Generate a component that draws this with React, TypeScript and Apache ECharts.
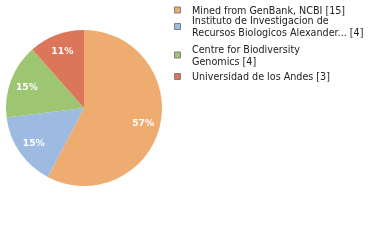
import React, { useEffect, useRef } from "react";
import * as echarts from "echarts";

const categories = [
  "Mined from GenBank, NCBI [15]",
  "Instituto de Investigacion de\nRecursos Biologicos Alexander... [4]",
  "Centre for Biodiversity\nGenomics [4]",
  "Universidad de los Andes [3]",
];
const values = [15, 4, 4, 3];
const colors = ["#EFAC70", "#9DBBE0", "#9EC571", "#DC765A"];
// vertical centre of each legend entry (layout)
const legendCenters = [10, 26.5, 55, 76.5];

export default function App() {
  const ref = useRef<HTMLDivElement>(null);
  useEffect(() => {
    const chart = echarts.init(ref.current!, null, { renderer: "svg" });
    const data = categories.map((name, i) => ({
      name,
      value: values[i],
      itemStyle: { color: colors[i] },
    }));
    const total = values.reduce((a, b) => a + b, 0);
    const legendGraphics: any[] = [];
    categories.forEach((name, i) => {
      const c = legendCenters[i];
      legendGraphics.push({
        type: "rect",
        silent: true,
        shape: { x: 174.5, y: c - 3, width: 6, height: 6 },
        style: { fill: colors[i], stroke: "#808080", lineWidth: 1 },
      });
      legendGraphics.push({
        type: "text",
        silent: true,
        x: 192,
        y: c,
        style: {
          text: name,
          fill: "#222",
          fontFamily: "DejaVu Sans",
          fontSize: 9.6,
          lineHeight: 12,
          align: "left",
          verticalAlign: "middle",
        },
      });
    });
    chart.setOption({
      animation: false,
      color: colors,
      graphic: legendGraphics,
      series: [
        {
          type: "pie",
          center: [84, 108],
          radius: [0, 78],
          startAngle: 90,
          clockwise: true,
          label: { show: false },
          labelLine: { show: false },
          emphasis: { disabled: true },
          silent: true,
          data,
        },
        {
          type: "pie",
          center: [84, 108],
          radius: [38, 78],
          startAngle: 90,
          clockwise: true,
          silent: true,
          emphasis: { disabled: true },
          itemStyle: { color: "transparent" },
          label: {
            show: true,
            position: "inside",
            color: "#fff",
            fontFamily: "DejaVu Sans",
            fontSize: 9.2,
            fontWeight: "bold",
            formatter: (p: any) => Math.floor((p.value / total) * 100) + "%",
          },
          labelLine: { show: false },
          data: categories.map((name, i) => ({
            name: name + " ",
            value: values[i],
            itemStyle: { color: "transparent" },
          })),
        },
      ],
    });
    return () => chart.dispose();
  }, []);
  return (
    <div
      ref={ref}
      style={{ position: "fixed", left: 0, top: 0, width: 380, height: 240 }}
    />
  );
}
